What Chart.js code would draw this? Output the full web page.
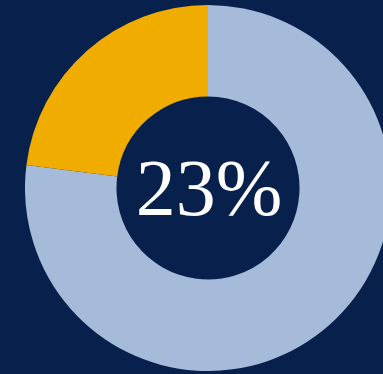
<!DOCTYPE html>
<html>
<head>
<meta charset="utf-8">
<script src="https://cdn.jsdelivr.net/npm/chart.js@4"></script>
<style>
  html, body { margin: 0; padding: 0; width: 383px; height: 374px; overflow: hidden; background: #08214c; }
  #wrap { position: absolute; left: 25px; top: 5px; width: 366px; height: 366px; }
  #label { position: absolute; left: 0; width: 418px; top: 138px; text-align: center; color: #fff;
           font: 80px 'Liberation Serif', 'DejaVu Serif', serif; line-height: 100px; pointer-events: none; }
</style>
</head>
<body>
<div id="wrap"><canvas id="donut" width="366" height="366"></canvas></div>
<div id="label"></div>
<script>
const labels = ['Other', 'Share'];
const values = [77, 23];
const colors = ['#a6bad9', '#f0ad00'];
const centerLabel = '23%';

new Chart(document.getElementById('donut'), {
  type: 'doughnut',
  data: {
    labels: labels,
    datasets: [{
      data: values,
      backgroundColor: colors,
      borderWidth: 0
    }]
  },
  options: {
    responsive: false,
    animation: false,
    cutout: '50%',
    layout: { padding: 0 },
    plugins: {
      legend: { display: false },
      tooltip: { enabled: false }
    }
  }
});

// the big percentage sits in the hole as page text
document.getElementById('label').textContent = centerLabel;
</script>
</body>
</html>
